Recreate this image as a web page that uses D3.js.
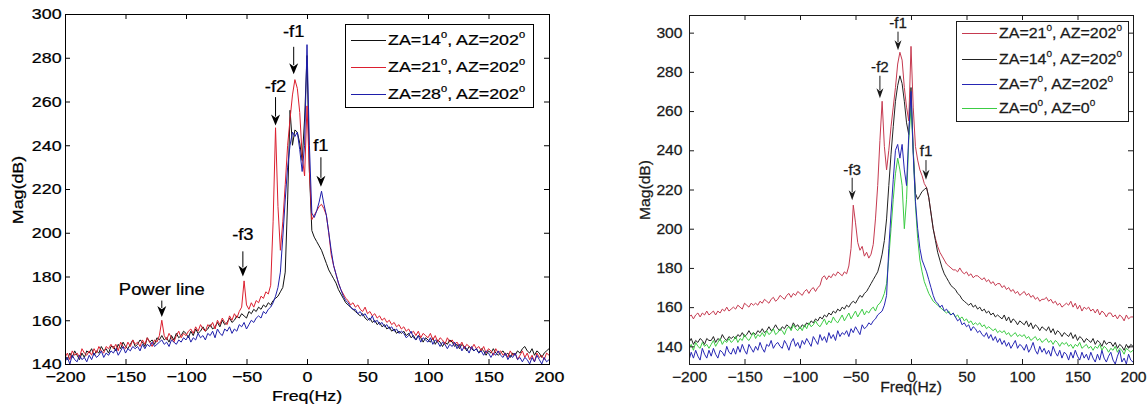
<!DOCTYPE html>
<html>
<head>
<meta charset="utf-8">
<script src="https://cdn.jsdelivr.net/npm/d3@7"></script>
<style>
  body { margin: 0; background: #fff; }
  svg { display: block; font-family: Arial, "Liberation Sans", sans-serif; }
  svg text { stroke-width: 0.25px; }
</style>
</head>
<body>
<svg id="chart" width="1147" height="410"></svg>
<script>
// FFT bins, 2 Hz apart
const freqs = d3.range(-200, 201, 2);

// left panel: ZA=14 / 21 / 28, AZ=202
const leftBlack = [
  144,142,145,143,146,144,142,145,143,146,
  145,147,144,146,145,148,146,147,145,148,
  148,146,149,147,150,148,147,149,151,148,
  149,151,150,148,152,150,151,149,152,151,
  153,151,152,150,153,151,154,152,153,155,
  154,152,155,153,156,154,155,157,155,156,
  158,156,157,159,157,160,158,159,161,159,
  160,162,161,163,162,161,164,163,165,164,
  166,165,167,166,168,167,169,170,171,173,
  175,182,215,256,240,247,246,241,233,252,
  281,228,201,198,196,194,192,189,186,183,
  181,179,177,174,172,170,168,167,166,165,
  164,163,162,163,161,160,161,159,160,158,
  159,157,158,156,157,155,156,154,155,154,
  155,153,154,152,153,151,153,152,150,152,
  151,150,152,149,151,150,148,150,149,151,
  150,148,149,147,149,148,146,148,147,146,
  147,145,147,146,144,146,145,147,145,144,
  145,146,144,145,143,145,144,146,145,147,
  148,146,145,147,144,146,145,143,145,146,
  147
];
const leftRed = [
  143,145,142,146,144,145,143,147,145,144,
  146,144,147,145,148,146,145,148,147,149,
  147,149,146,150,148,147,150,148,151,149,
  150,148,151,149,152,150,148,151,150,153,
  160,153,151,154,152,150,153,155,152,154,
  153,155,156,154,157,155,158,156,155,158,
  157,159,156,160,158,161,159,158,162,160,
  163,161,164,166,178,167,165,168,166,169,
  168,171,170,173,172,176,205,248,212,192,
  205,222,240,252,263,270,266,255,235,226,
  258,228,206,208,210,212,213,211,208,200,
  190,185,181,177,174,172,170,169,167,168,
  166,167,165,164,166,163,164,162,163,161,
  162,160,161,159,160,158,159,157,158,156,
  157,155,156,154,155,153,155,152,154,153,
  152,154,151,153,150,152,151,149,152,150,
  151,149,150,148,150,147,149,148,147,149,
  147,148,146,148,145,147,146,144,147,145,
  146,144,145,143,146,144,145,142,144,146,
  143,145,142,144,141,145,143,144,142,145,
  144
];
const leftBlue = [
  141,143,140,144,142,141,144,142,143,141,
  144,142,145,143,144,146,143,145,144,146,
  145,147,144,146,148,145,147,146,148,147,
  148,146,149,147,149,148,150,148,149,150,
  151,149,150,148,151,150,149,151,150,152,
  151,153,150,152,151,154,152,153,151,154,
  153,155,152,156,154,153,156,155,157,154,
  156,155,158,157,159,156,158,160,159,161,
  162,161,164,163,165,166,168,171,175,182,
  198,215,230,240,246,244,246,238,228,240,
  286,240,209,207,210,214,219,213,208,200,
  192,185,181,177,174,171,169,168,166,165,
  165,163,164,162,163,161,160,162,159,160,
  158,159,157,158,156,157,155,156,154,155,
  154,152,153,155,152,151,153,150,152,151,
  150,152,149,151,150,148,150,149,147,149,
  148,150,147,149,146,148,147,145,148,146,
  147,145,146,144,146,145,143,145,144,146,
  144,143,145,142,144,143,145,142,143,141,
  143,142,140,143,141,144,142,140,143,141,
  142
];

// right panel: ZA=21 / 14 / 7 (AZ=202), ZA=0 AZ=0
const rightRed = [
  155,156,154,156,157,155,157,156,158,156,
  157,158,156,158,157,159,158,160,158,159,
  160,159,161,160,159,162,161,160,162,161,
  162,161,163,162,164,163,162,164,165,163,
  164,166,165,164,166,167,165,167,166,168,
  167,166,168,169,167,169,170,168,170,171,
  175,176,174,176,175,177,176,178,177,176,
  178,177,181,190,212,203,193,189,191,186,
  188,185,187,192,205,222,245,265,242,230,
  240,252,262,272,284,290,286,272,262,255,
  293,262,242,235,230,227,223,221,216,208,
  200,195,191,188,186,184,182,181,180,179,
  179,178,180,178,177,178,176,177,175,176,
  176,175,174,175,173,174,172,173,171,172,
  172,170,171,169,170,168,169,167,168,166,
  167,168,166,167,165,166,164,165,163,164,
  164,165,163,164,162,163,161,162,160,161,
  162,161,163,160,162,159,161,158,160,159,
  160,158,159,157,159,156,158,157,155,157,
  157,155,156,154,156,155,153,156,154,155,
  155
];
const rightBlack = [
  142,144,141,143,142,144,143,141,144,143,
  143,145,142,144,143,146,144,143,145,144,
  145,144,146,145,147,145,146,148,146,147,
  146,148,147,149,147,148,150,148,149,151,
  149,148,150,149,151,150,149,152,150,151,
  149,151,150,152,151,153,152,154,153,155,
  154,156,155,157,156,158,157,159,158,160,
  159,161,160,162,163,162,164,166,165,167,
  168,170,172,174,176,178,182,187,194,205,
  222,238,252,265,273,278,274,265,254,248,
  272,240,218,215,217,219,220,221,216,208,
  200,194,188,184,180,177,175,173,171,170,
  169,167,166,164,163,162,161,162,160,161,
  159,160,158,159,157,158,156,157,155,156,
  155,154,156,153,155,152,154,153,151,153,
  152,151,153,150,152,149,151,150,148,150,
  149,148,150,147,149,146,148,147,145,147,
  146,145,147,144,146,143,145,144,142,144,
  143,142,144,141,143,142,140,143,141,142,
  142,140,142,139,141,140,138,141,139,141,
  140
];
const rightBlue = [
  133,137,134,138,135,133,139,136,134,138,
  135,139,136,134,138,137,135,140,137,136,
  139,136,140,137,141,138,136,141,139,137,
  140,138,142,139,137,141,140,143,139,141,
  142,140,139,143,141,138,142,144,140,142,
  139,143,141,144,142,140,145,143,141,146,
  143,145,142,147,144,146,143,148,145,147,
  146,148,145,149,147,150,148,146,151,149,
  150,152,151,153,154,156,157,158,161,166,
  190,208,225,240,243,236,243,230,222,248,
  270,238,214,200,190,184,181,178,174,170,
  166,163,162,160,161,158,159,157,156,157,
  155,153,154,151,152,150,151,148,150,149,
  147,148,146,145,147,144,146,143,145,142,
  144,141,143,140,142,139,141,143,139,141,
  140,138,141,137,139,142,138,136,140,137,
  139,136,138,135,140,137,135,138,134,137,
  136,133,137,134,138,135,133,137,134,136,
  133,137,134,132,136,133,138,134,132,135,
  137,133,131,135,138,132,134,131,136,133,
  132
];
const rightGreen = [
  139,141,138,142,140,139,142,140,141,139,
  141,143,140,142,144,141,143,142,144,142,
  143,145,142,144,143,146,144,143,145,147,
  144,146,145,147,145,148,146,147,149,146,
  147,149,148,146,149,150,148,151,149,148,
  150,148,151,149,152,150,151,153,151,150,
  152,154,151,153,152,155,153,152,154,156,
  153,155,157,154,156,158,155,157,159,156,
  158,157,159,160,158,161,162,164,167,172,
  185,200,215,228,236,230,222,200,215,245,
  262,240,212,195,184,178,173,170,167,165,
  163,162,161,160,159,158,157,158,156,157,
  155,156,154,155,153,154,152,153,151,152,
  151,152,150,151,149,150,149,148,149,147,
  148,147,148,146,147,145,146,147,145,146,
  145,146,144,145,143,144,145,143,144,142,
  143,144,142,143,141,143,142,140,142,141,
  142,140,141,139,141,140,142,139,140,141,
  139,140,138,140,139,141,138,140,139,137,
  139,138,140,137,139,138,136,139,138,137,
  138
];

const xTicks = [-200, -150, -100, -50, 0, 50, 100, 150, 200];
const yTicks = [140, 160, 180, 200, 220, 240, 260, 280, 300];

const leftLegend = [['14', '202'], ['21', '202'], ['28', '202']];
const rightLegend = [['21', '202'], ['14', '202'], ['7', '202'], ['0', '0']];

// arrows: frequency, tail / tip magnitude, text baseline magnitude
const leftNotes = [
  { label: '-f1', f: -11, tail: 285, tip: 272.5, text: 289.5 },
  { label: '-f2', f: -26, tail: 262, tip: 249, text: 264.5 },
  { label: 'f1', f: 11.5, tail: 234.5, tip: 221, text: 237.5 },
  { label: '-f3', f: -53, tail: 191.5, tip: 180, text: 196.5 },
  { label: 'Power line', f: -120, tail: 169, tip: 161.5, text: 171.5 }
];
const rightNotes = [
  { label: '-f1', f: -11.7, tail: 300.5, tip: 291, text: 302.5 },
  { label: '-f2', f: -28, tail: 278, tip: 266.5, text: 280 },
  { label: 'f1', f: 13.5, tail: 235, tip: 225, text: 237 },
  { label: '-f3', f: -53, tail: 226, tip: 214.5, text: 227.5 }
];

const svg = d3.select('#chart');

const panels = [
  {
    id: 'l', left: 65, right: 549, top: 14, bottom: 364, yDomain: [140, 300],
    series: [
      { values: leftBlack, color: '#111111' },
      { values: leftRed, color: '#dc1f2f' },
      { values: leftBlue, color: '#1e1eaa' }
    ],
    legendColors: ['#111111', '#dc1f2f', '#1e1eaa'],
    legend: leftLegend, legendBox: [345, 24, 188, 83], legendRows: [40, 67, 94],
    notes: leftNotes, font: 15.5, noteFont: 16, legendFont: 15.5, sx: 1.15, yPad: 3, xPad: 7,
    yTitle: [23, 190], xTitle: [307, 401], head: [9, 11], ink: '#000'
  },
  {
    id: 'r', left: 689, right: 1133, top: 15, bottom: 364, yDomain: [131, 309],
    series: [
      { values: rightRed, color: '#c63a50' },
      { values: rightBlack, color: '#222222' },
      { values: rightGreen, color: '#3ccc44' },
      { values: rightBlue, color: '#2626b4' }
    ],
    legendColors: ['#c63a50', '#222222', '#2626b4', '#3ccc44'],
    legend: rightLegend, legendBox: [956, 21, 172, 100], legendRows: [33, 59, 84, 108],
    notes: rightNotes, font: 14.5, noteFont: 14, legendFont: 14.8, sx: 1.08, yPad: 6, xPad: 8,
    yTitle: [650, 190], xTitle: [911, 392], head: [7, 10], ink: '#1a1a1a'
  }
];

function stretched(g, str, x, y, p, size, anchor, rot) {
  return g.append('text')
    .attr('transform', `translate(${x},${y}) rotate(${rot || 0}) scale(${p.sx},1)`)
    .attr('text-anchor', anchor || 'middle')
    .attr('font-size', size)
    .attr('fill', p.ink)
    .attr('stroke', p.ink)
    .text(str);
}

function drawPanel(p) {
  const x = d3.scaleLinear().domain([-200, 200]).range([p.left, p.right]);
  const y = d3.scaleLinear().domain(p.yDomain).range([p.bottom, p.top]);
  const g = svg.append('g');

  g.append('clipPath').attr('id', 'clip-' + p.id)
    .append('rect')
    .attr('x', p.left).attr('y', p.top)
    .attr('width', p.right - p.left).attr('height', p.bottom - p.top);

  const line = d3.line()
    .x((d, i) => x(freqs[i]))
    .y((d) => y(d));

  g.append('g').attr('clip-path', `url(#clip-${p.id})`)
    .selectAll('path')
    .data(p.series)
    .enter()
    .append('path')
    .attr('d', (s) => line(s.values))
    .attr('fill', 'none')
    .attr('stroke', (s) => s.color)
    .attr('stroke-width', 1)
    .attr('stroke-linejoin', 'round');

  // MATLAB style box, ticks inside on every side
  const axes = [
    { ax: d3.axisBottom(x).tickValues(xTicks).tickPadding(p.xPad), at: `translate(0,${p.bottom})` },
    { ax: d3.axisLeft(y).tickValues(yTicks).tickPadding(p.yPad), at: `translate(${p.left},0)` },
    { ax: d3.axisTop(x).tickValues(xTicks).tickFormat(''), at: `translate(0,${p.top})` },
    { ax: d3.axisRight(y).tickValues(yTicks).tickFormat(''), at: `translate(${p.right},0)` }
  ];
  axes.forEach((a) => {
    const ga = g.append('g').attr('transform', a.at)
      .call(a.ax.tickSize(-5).tickSizeOuter(0));
    ga.select('.domain').remove();
    ga.attr('font-family', null).attr('font-size', p.font);
    ga.selectAll('line').attr('stroke', p.ink);
    ga.selectAll('text').attr('fill', p.ink).attr('stroke', p.ink)
      .attr('transform', `scale(${p.sx},1)`);
  });

  g.append('rect')
    .attr('x', p.left + 0.5).attr('y', p.top + 0.5)
    .attr('width', p.right - p.left).attr('height', p.bottom - p.top)
    .attr('fill', 'none').attr('stroke', p.ink).attr('stroke-width', 1);

  stretched(g, 'Mag(dB)', p.yTitle[0], p.yTitle[1], p, p.font, 'middle', -90);
  stretched(g, 'Freq(Hz)', p.xTitle[0], p.xTitle[1], p, p.font, 'middle');

  // annotations
  p.notes.forEach((n) => {
    const ax = x(n.f);
    const tipY = y(n.tip);
    const [w, h] = p.head;
    g.append('line')
      .attr('x1', ax).attr('x2', ax)
      .attr('y1', y(n.tail)).attr('y2', tipY - h + 2)
      .attr('stroke', p.ink).attr('stroke-width', 1);
    g.append('path')
      .attr('d', `M${ax},${tipY} L${ax - w / 2},${tipY - h} L${ax},${tipY - h * 0.7} L${ax + w / 2},${tipY - h} Z`)
      .attr('fill', p.ink);
    stretched(g, n.label, ax, y(n.text), p, p.noteFont, 'middle');
  });

  // legend
  const [bx, by, bw, bh] = p.legendBox;
  g.append('rect')
    .attr('x', bx + 0.5).attr('y', by + 0.5).attr('width', bw).attr('height', bh)
    .attr('fill', '#fff').attr('stroke', p.ink).attr('stroke-width', 1);
  p.legend.forEach((d, i) => {
    const ly = p.legendRows[i];
    g.append('line')
      .attr('x1', bx + 6).attr('x2', bx + 41)
      .attr('y1', ly + 0.5).attr('y2', ly + 0.5)
      .attr('stroke', p.legendColors[i]).attr('stroke-width', 1);
    const fs = p.legendFont;
    const sup = fs * 0.45;
    const t = g.append('text')
      .attr('transform', `translate(${bx + 43},${ly + 5}) scale(${p.sx},1)`)
      .attr('font-size', fs).attr('fill', p.ink).attr('stroke', p.ink);
    t.append('tspan').text('ZA=' + d[0]);
    t.append('tspan').attr('font-size', fs * 0.62).attr('dy', -sup).text('0');
    t.append('tspan').attr('dy', sup).text(', AZ=' + d[1]);
    t.append('tspan').attr('font-size', fs * 0.62).attr('dy', -sup).text('0');
  });
}

panels.forEach(drawPanel);
</script>
</body>
</html>
